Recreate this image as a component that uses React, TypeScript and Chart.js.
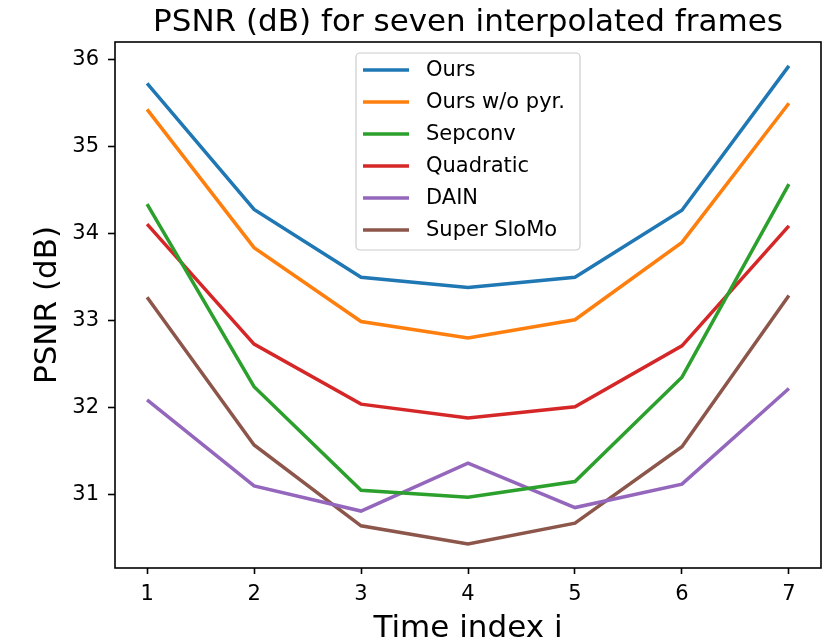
import React, { useEffect, useRef } from "react";
import { Chart, registerables } from "chart.js";

Chart.register(...registerables);

const timeIndex = [1, 2, 3, 4, 5, 6, 7];
const ours = [35.73, 34.28, 33.5, 33.38, 33.5, 34.27, 35.93];
const oursNoPyr = [35.43, 33.84, 32.99, 32.8, 33.01, 33.9, 35.5];
const sepconv = [34.34, 32.24, 31.05, 30.97, 31.15, 32.35, 34.57];
const quadratic = [34.11, 32.73, 32.04, 31.88, 32.01, 32.71, 34.09];
const dain = [32.09, 31.1, 30.81, 31.36, 30.85, 31.12, 32.22];
const superSloMo = [33.27, 31.57, 30.64, 30.43, 30.67, 31.55, 33.29];
const seriesLabels = ["Ours", "Ours w/o pyr.", "Sepconv", "Quadratic", "DAIN", "Super SloMo"];
const seriesColors = ["#1f77b4", "#ff7f0e", "#2ca02c", "#d62728", "#9467bd", "#8c564b"];
const yTicks = [31, 32, 33, 34, 35, 36];
const xTicks = [1, 2, 3, 4, 5, 6, 7];
const titleText = "PSNR (dB) for seven interpolated frames";
const xTitle = "Time index i";
const yTitle = "PSNR (dB)";

const FONT = "'DejaVu Sans', sans-serif";

const decorPlugin = {
  id: "decor",
  afterDatasetsDraw(chart: any) {
    const ctx = chart.ctx as CanvasRenderingContext2D;
    const ca = chart.chartArea;
    ctx.save();
    // frame
    ctx.strokeStyle = "#000";
    ctx.lineWidth = 1.6;
    ctx.strokeRect(ca.left, ca.top, ca.right - ca.left, ca.bottom - ca.top);
    // legend
    const lx = ca.left + 241;
    const ly = ca.top + 11;
    const lw = 224;
    const lh = 197;
    ctx.beginPath();
    (ctx as any).roundRect(lx, ly, lw, lh, 4);
    ctx.fillStyle = "rgba(255,255,255,0.8)";
    ctx.fill();
    ctx.strokeStyle = "#cccccc";
    ctx.lineWidth = 1.2;
    ctx.stroke();
    ctx.font = `21px ${FONT}`;
    ctx.textBaseline = "middle";
    ctx.textAlign = "left";
    chart.data.datasets.forEach((ds: any, i: number) => {
      const ry = ly + 17 + i * 32;
      ctx.beginPath();
      ctx.moveTo(lx + 7, ry);
      ctx.lineTo(lx + 53, ry);
      ctx.strokeStyle = ds.borderColor;
      ctx.lineWidth = 3.5;
      ctx.lineCap = "butt";
      ctx.stroke();
      ctx.fillStyle = "#000";
      ctx.fillText(ds.label, lx + 70, ry + 1);
    });
    // titles
    const cx = (ca.left + ca.right) / 2;
    ctx.fillStyle = "#000";
    ctx.font = `31px ${FONT}`;
    ctx.textAlign = "center";
    ctx.textBaseline = "alphabetic";
    ctx.fillText(titleText, cx, 31);
    ctx.fillText(xTitle, cx, 637);
    ctx.save();
    ctx.translate(56, (ca.top + ca.bottom) / 2);
    ctx.rotate(-Math.PI / 2);
    ctx.fillText(yTitle, 0, 0);
    ctx.restore();
    ctx.restore();
  },
};

export default function App() {
  const ref = useRef<HTMLCanvasElement>(null);
  useEffect(() => {
    if (!ref.current) return;
    const all = [ours, oursNoPyr, sepconv, quadratic, dain, superSloMo];
    const chart = new Chart(ref.current, {
      type: "line",
      data: {
        datasets: all.map((vals, i) => ({
          label: seriesLabels[i],
          data: timeIndex.map((t, j) => ({ x: t, y: vals[j] })),
          borderColor: seriesColors[i],
          backgroundColor: seriesColors[i],
          borderWidth: 3.5,
          pointRadius: 0,
          tension: 0,
          fill: false,
        })),
      },
      options: {
        responsive: false,
        animation: false,
        devicePixelRatio: 1,
        layout: { padding: { top: 42, right: 10, left: 0, bottom: 0 } },
        plugins: {
          legend: { display: false },
          title: { display: false },
          tooltip: { enabled: false },
        },
        scales: {
          x: {
            type: "linear",
            min: 0.7,
            max: 7.3,
            afterBuildTicks: (s: any) => {
              s.ticks = xTicks.map((v) => ({ value: v }));
            },
            afterFit: (s: any) => {
              s.height = 76;
            },
            grid: { drawOnChartArea: false, drawTicks: true, tickLength: 6, tickWidth: 1.6, tickColor: "#000" },
            border: { display: false },
            ticks: {
              color: "#000",
              font: { family: FONT, size: 21 },
              padding: 8,
              maxRotation: 0,
              autoSkip: false,
              callback: (v: any) => String(v),
            },
          },
          y: {
            type: "linear",
            min: 30.155,
            max: 36.205,
            afterBuildTicks: (s: any) => {
              s.ticks = yTicks.map((v) => ({ value: v }));
            },
            afterFit: (s: any) => {
              s.width = 115;
            },
            grid: { drawOnChartArea: false, drawTicks: true, tickLength: 7, tickWidth: 1.6, tickColor: "#000" },
            border: { display: false },
            ticks: {
              color: "#000",
              font: { family: FONT, size: 21 },
              padding: 9,
              autoSkip: false,
              callback: (v: any) => String(v),
            },
          },
        },
      },
      plugins: [decorPlugin],
    });
    return () => chart.destroy();
  }, []);
  return (
    <div style={{ position: "absolute", left: 0, top: 0, width: 831, height: 644, background: "#fff" }}>
      <canvas ref={ref} width={831} height={644} style={{ width: 831, height: 644, display: "block" }} />
    </div>
  );
}
